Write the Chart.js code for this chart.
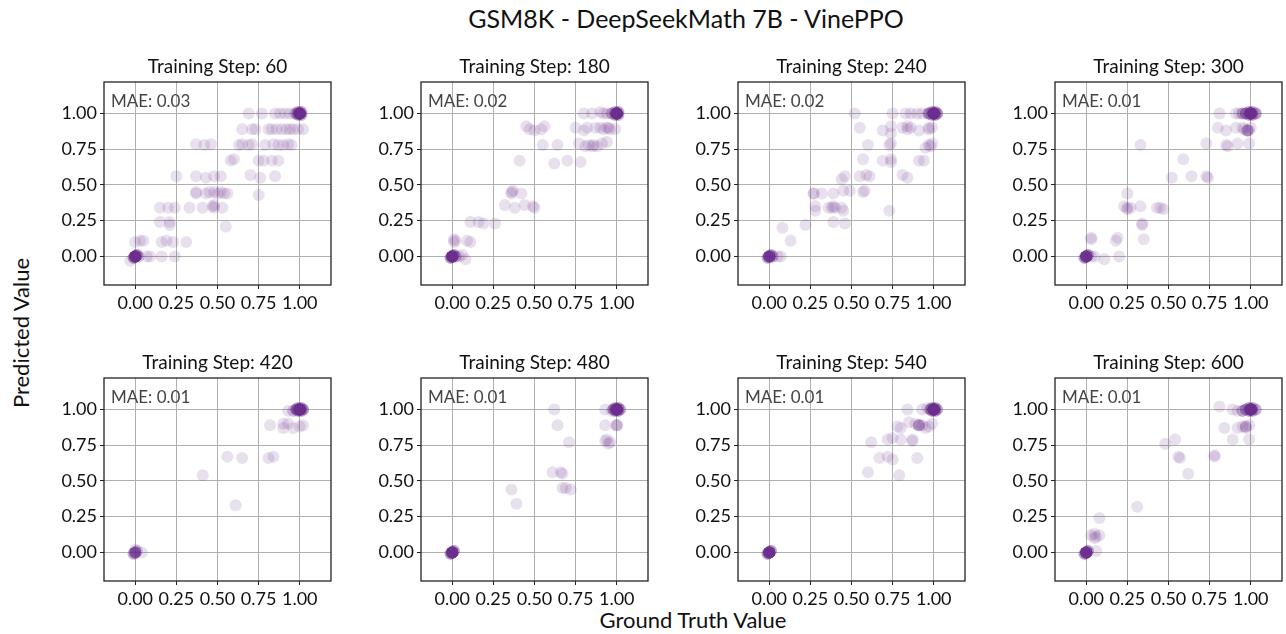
<!DOCTYPE html>
<html>
<head>
<meta charset="utf-8">
<script src="https://cdn.jsdelivr.net/npm/chart.js@4.4.1/dist/chart.umd.min.js"></script>
<style>
  body { margin: 0; width: 1286px; height: 634px; background: #fff; position: relative; overflow: hidden; font-family: Lato, sans-serif; }
  canvas { position: absolute; }
  .lbl { position: absolute; white-space: nowrap; color: #111; transform: translate(-50%, -50%); }
</style>
</head>
<body>
<div class="lbl" style="left:686px; top:18px; font-size:25px;">GSM8K - DeepSeekMath 7B - VinePPO</div>
<div class="lbl" style="left:693px; top:619px; font-size:22px;">Ground Truth Value</div>
<div class="lbl" style="left:20px; top:333px; font-size:22px; transform: translate(-50%, -50%) rotate(-90deg);">Predicted Value</div>
<script>
// panels
const steps = [60, 180, 240, 300, 420, 480, 540, 600];
const mae = ['0.03', '0.02', '0.02', '0.01', '0.01', '0.01', '0.01', '0.01'];
const tickVals = [0, 0.25, 0.5, 0.75, 1];

// ground truth / predicted value per sample; n = how many samples sit on the first points (rest are single)
const gt60 = [1.01, 0.99, 1.01, 0.99, 0.01, -0.01, 1, 0, 0.98, 0.02, 0.88, 0.91, 0.94, 0.97, 0.69, 0.77, 0.85,
  0.65, 0.71, 0.73, 0.81, 0.83, 0.86, 0.89, 0.92, 0.94, 0.96, 0.99, 1.02,
  0.37, 0.42, 0.46, 0.63, 0.65, 0.69, 0.71, 0.79, 0.84, 0.87, 0.90, 0.93, 0.95,
  0.58, 0.60, 0.75, 0.78, 0.83, 0.87,
  0.25, 0.37, 0.43, 0.48, 0.52, 0.70, 0.76, 0.85,
  0.37, 0.43, 0.50, 0.54, 0.56, 0.75, 0.37, 0.45, 0.48, 0.52,
  0.15, 0.20, 0.24, 0.33, 0.41, 0.48, 0.53, 0.48, 0.47,
  0.15, 0.21, 0.21, 0.55,
  0.0, 0.03, 0.05, 0.16, 0.19, 0.23, 0.31,
  0.07, 0.09, 0.16, 0.24, -0.03];
const pr60 = [1.01, 0.99, 0.99, 1.01, 0.01, -0.01, 1, 0, 1.0, 0.0, 1.0, 1.0, 1.0, 1.0, 1.0, 1.0, 1.0,
  0.89, 0.89, 0.89, 0.89, 0.89, 0.89, 0.89, 0.89, 0.89, 0.89, 0.89, 0.89,
  0.785, 0.78, 0.785, 0.78, 0.785, 0.78, 0.785, 0.78, 0.785, 0.78, 0.78, 0.785, 0.78,
  0.67, 0.68, 0.67, 0.67, 0.67, 0.67,
  0.56, 0.56, 0.55, 0.56, 0.56, 0.57, 0.55, 0.56,
  0.45, 0.44, 0.44, 0.44, 0.44, 0.43, 0.44, 0.45, 0.45, 0.45,
  0.34, 0.34, 0.34, 0.34, 0.34, 0.34, 0.34, 0.36, 0.35,
  0.24, 0.24, 0.22, 0.21,
  0.10, 0.11, 0.11, 0.10, 0.11, 0.10, 0.10,
  0.0, 0.0, 0.0, 0.0, -0.03];
const n60 = [3, 3, 3, 3, 4, 4, 22, 20, 3, 2];

const gt180 = [1.01, 0.99, 1.01, 0.99, 0.01, -0.01, 1, 0, 0.97, 0.02, 0.80, 0.85, 0.90, 0.92, 0.94,
  0.45, 0.47, 0.50, 0.54, 0.56, 0.75, 0.80, 0.82, 0.87, 0.90, 0.94, 0.96, 0.99, 0.92, 0.95,
  0.55, 0.64, 0.77, 0.81, 0.85, 0.88, 0.91, 0.94, 0.83, 0.86,
  0.41, 0.62, 0.70, 0.78,
  0.36, 0.37, 0.42, 0.36,
  0.32, 0.38, 0.44, 0.49, 0.50,
  0.11, 0.16, 0.19, 0.26,
  0.01, 0.02, 0.09, 0.11, 0.01,
  0.06, 0.08, 0.04];
const pr180 = [1.01, 0.99, 0.99, 1.01, 0.01, -0.01, 1, 0, 1.0, 0.0, 1.0, 1.0, 1.01, 1.0, 1.0,
  0.91, 0.89, 0.88, 0.89, 0.91, 0.90, 0.88, 0.90, 0.90, 0.90, 0.90, 0.89, 0.89, 0.89, 0.90,
  0.78, 0.78, 0.79, 0.77, 0.77, 0.77, 0.79, 0.80, 0.78, 0.78,
  0.67, 0.65, 0.67, 0.66,
  0.45, 0.46, 0.44, 0.44,
  0.36, 0.34, 0.36, 0.35, 0.34,
  0.24, 0.24, 0.23, 0.23,
  0.12, 0.11, 0.11, 0.10, 0.10,
  0.01, -0.02, 0.0];
const n180 = [3, 3, 3, 3, 4, 4, 22, 20, 3, 3];

const gt240 = [1.01, 0.99, 1.01, 0.99, 0.01, -0.01, 1, 0.97, 1.02, 0, 0.02, 0.83, 0.86, 0.90, 0.93, 0.52, 0.75,
  0.55, 0.69, 0.74, 0.81, 0.84, 0.86, 0.91, 0.97, 0.99, 0.84, 0.97,
  0.74, 0.60, 0.73, 0.74, 0.97, 0.99, 0.95, 0.98,
  0.57, 0.69, 0.74, 0.74, 0.91, 0.94,
  0.46, 0.44, 0.55, 0.59, 0.61, 0.81, 0.84,
  0.45, 0.49, 0.58, 0.57, 0.27, 0.32, 0.39, 0.27,
  0.28, 0.28, 0.36, 0.39, 0.40, 0.38, 0.44, 0.45, 0.73,
  0.39, 0.46, 0.22, 0.08, 0.13,
  0.07, 0.05];
const pr240 = [1.01, 0.99, 0.99, 1.01, 0.01, -0.01, 1, 1.0, 1.0, 0, 0.0, 1.0, 1.0, 1.0, 1.0, 1.0, 1.0,
  0.90, 0.88, 0.91, 0.90, 0.89, 0.90, 0.88, 0.90, 0.90, 0.91, 0.89,
  0.86, 0.78, 0.78, 0.79, 0.78, 0.79, 0.76, 0.77,
  0.68, 0.67, 0.68, 0.66, 0.67, 0.67,
  0.56, 0.54, 0.56, 0.57, 0.56, 0.57, 0.55,
  0.46, 0.46, 0.46, 0.45, 0.44, 0.44, 0.44, 0.44,
  0.35, 0.32, 0.34, 0.35, 0.34, 0.34, 0.34, 0.32, 0.32,
  0.24, 0.23, 0.22, 0.20, 0.11,
  0.0, 0.0];
const n240 = [3, 3, 3, 3, 3, 3, 20, 5, 4, 14, 3];

const gt300 = [1.01, 0.99, 1.01, 0.99, 0.01, -0.01, 1, 0.97, 1.03, 0.95, 0, 0.98, 0.81, 0.91, 0.93,
  0.80, 0.85, 0.91, 0.95, 0.99, 1.0, 0.96,
  0.33, 0.73, 0.86, 0.85, 0.92, 0.99,
  0.59, 0.64, 0.52, 0.73, 0.74,
  0.25, 0.23, 0.25, 0.27, 0.25, 0.33, 0.43, 0.45, 0.47,
  0.34, 0.34, 0.35, 0.03, 0.03, 0.18, 0.19,
  0.20, 0.11, 0.05, 0.03];
const pr300 = [1.01, 0.99, 0.99, 1.01, 0.01, -0.01, 1, 1.0, 1.0, 1.0, 0, 0.88, 1.0, 1.0, 1.0,
  0.90, 0.88, 0.90, 0.90, 0.88, 0.90, 0.89,
  0.78, 0.79, 0.77, 0.78, 0.79, 0.79,
  0.68, 0.56, 0.55, 0.56, 0.55,
  0.44, 0.35, 0.34, 0.34, 0.33, 0.35, 0.34, 0.34, 0.33,
  0.23, 0.22, 0.12, 0.12, 0.13, 0.11, 0.13,
  0.0, -0.02, 0.0, 0.0];
const n300 = [3, 3, 3, 3, 4, 4, 18, 5, 4, 3, 16, 4];

const gt420 = [1.01, 0.99, 1.01, 0.99, 0.01, -0.01, 1, 0.98, 1.02, 0.96, 0,
  0.93, 0.82, 0.90, 0.93, 0.90, 0.96, 1.0, 1.02,
  0.56, 0.65, 0.81, 0.84, 0.41, 0.61,
  0.04, 0.0, -0.01];
const pr420 = [1.01, 0.99, 0.99, 1.01, 0.01, -0.01, 1, 1.0, 1.0, 0.99, 0,
  0.99, 0.89, 0.90, 0.90, 0.87, 0.87, 0.88, 0.89,
  0.67, 0.66, 0.66, 0.67, 0.54, 0.33,
  0.0, 0.02, -0.01];
const n420 = [3, 3, 3, 3, 2, 2, 22, 6, 4, 2, 8];

const gt480 = [1.01, 0.99, 1.01, 0.99, 0.01, -0.01, 1, 0.98, 1.02, 0, 1.0,
  0.93, 0.97, 0.62, 0.64, 0.93, 1.0,
  0.71, 0.94, 0.95, 0.96, 0.93,
  0.61, 0.66, 0.67, 0.67, 0.69, 0.72, 0.36, 0.39];
const pr480 = [1.01, 0.99, 0.99, 1.01, 0.01, -0.01, 1, 1.0, 1.0, 0, 0.89,
  1.0, 0.99, 1.0, 0.89, 0.89, 0.89,
  0.77, 0.79, 0.76, 0.77, 0.78,
  0.56, 0.56, 0.55, 0.45, 0.45, 0.44, 0.44, 0.34];
const n480 = [3, 3, 3, 3, 4, 4, 24, 4, 3, 20, 2];

const gt540 = [1.01, 0.99, 1.01, 0.99, 0.01, -0.01, 1, 0.98, 1.02, 0, 0.91,
  0.84, 0.93, 0.96,
  0.85, 0.89, 0.91, 0.93, 0.95, 0.99, 0.78, 0.80, 0.97,
  0.62, 0.72, 0.75, 0.80, 0.87, 0.87,
  0.67, 0.72, 0.75, 0.90, 0.60, 0.79];
const pr540 = [1.01, 0.99, 0.99, 1.01, 0.01, -0.01, 1, 1.0, 1.0, 0, 0.89,
  1.0, 1.0, 1.01,
  0.91, 0.90, 0.89, 0.89, 0.87, 0.90, 0.88, 0.87, 0.88,
  0.77, 0.79, 0.80, 0.79, 0.79, 0.78,
  0.66, 0.67, 0.65, 0.66, 0.56, 0.54];
const n540 = [3, 3, 3, 3, 4, 4, 24, 4, 3, 20, 3];

const gt600 = [1.01, 0.99, 1.01, 0.99, 0.01, -0.01, 1, 0.97, 1.03, 0.95, 0, 0.97,
  0.81, 0.89, 0.92, 0.95,
  0.84, 0.92, 0.95, 0.97, 0.99,
  0.89, 0.99, 0.48, 0.54, 0.56, 0.57, 0.78, 0.78, 0.62,
  0.31, 0.08, 0.03, 0.05, 0.06, 0.08, 0.05, 0.06];
const pr600 = [1.01, 0.99, 0.99, 1.01, 0.01, -0.01, 1, 1.0, 1.0, 0.99, 0, 0.88,
  1.02, 1.0, 0.99, 0.99,
  0.87, 0.87, 0.88, 0.87, 0.89,
  0.79, 0.79, 0.76, 0.79, 0.67, 0.66, 0.68, 0.67, 0.55,
  0.32, 0.24, 0.12, 0.13, 0.11, 0.12, 0.10, 0.01];
const n600 = [3, 3, 3, 3, 4, 4, 22, 4, 3, 2, 18, 2];

const panels = [
  [gt60, pr60, n60], [gt180, pr180, n180], [gt240, pr240, n240], [gt300, pr300, n300],
  [gt420, pr420, n420], [gt480, pr480, n480], [gt540, pr540, n540], [gt600, pr600, n600]
];

const FONT = 'Lato, sans-serif';
const colLeft = [104, 421, 738, 1055];
const rowTop = [82, 378];
const PW = 227, PH = 203;
const YW = 60, TH = 28, XH = 32, RP = 6;

// box round the plot + MAE note
const framePlugin = {
  id: 'frame',
  afterDraw(chart, args, opts) {
    const a = chart.chartArea, ctx = chart.ctx;
    ctx.save();
    ctx.strokeStyle = '#222';
    ctx.lineWidth = 1.3;
    ctx.strokeRect(a.left, a.top, a.right - a.left, a.bottom - a.top);
    ctx.fillStyle = '#444';
    ctx.font = '17px ' + FONT;
    ctx.textBaseline = 'middle';
    ctx.fillText('MAE: ' + opts.mae, a.left + 7, a.top + 20);
    ctx.restore();
  }
};

function axis(min, max, fitFn) {
  return {
    type: 'linear', min: min, max: max,
    afterBuildTicks: s => { s.ticks = tickVals.map(v => ({ value: v })); },
    afterFit: fitFn,
    ticks: { callback: v => v.toFixed(2), color: '#111', font: { family: FONT, size: 18 }, padding: 3, autoSkip: false, maxRotation: 0 },
    grid: { color: '#b0b0b0', lineWidth: 1, tickLength: 4, tickColor: '#222', tickWidth: 1 },
    border: { display: false }
  };
}

panels.forEach(([gt, pr, n], i) => {
  const L = colLeft[i % 4], T = rowTop[Math.floor(i / 4)];
  const cv = document.createElement('canvas');
  cv.width = YW + PW + RP;
  cv.height = TH + PH + XH;
  cv.style.left = (L - YW) + 'px';
  cv.style.top = (T - TH) + 'px';
  document.body.appendChild(cv);

  const pts = [];
  gt.forEach((x, j) => {
    const k = n[j] || 1;
    for (let r = 0; r < k; r++) pts.push({ x: x, y: pr[j] });
  });

  new Chart(cv.getContext('2d'), {
    type: 'scatter',
    data: {
      datasets: [{
        data: pts,
        backgroundColor: 'rgba(106, 44, 138, 0.15)',
        borderWidth: 0,
        pointRadius: 6
      }]
    },
    options: {
      responsive: false,
      animation: false,
      events: [],
      layout: { padding: { left: 0, right: RP, top: 0, bottom: 0 } },
      plugins: {
        legend: { display: false },
        tooltip: { enabled: false },
        title: {
          display: true, fullSize: false, text: 'Training Step: ' + steps[i], color: '#111',
          font: { family: FONT, size: 19, weight: 'normal' },
          padding: { top: 1, bottom: 4.2 }
        },
        frame: { mae: mae[i] }
      },
      scales: {
        x: axis(-0.19, 1.19, s => { s.height = XH; }),
        y: axis(-0.2, 1.22, s => { s.width = YW; })
      }
    },
    plugins: [framePlugin]
  });
});
</script>
</body>
</html>
